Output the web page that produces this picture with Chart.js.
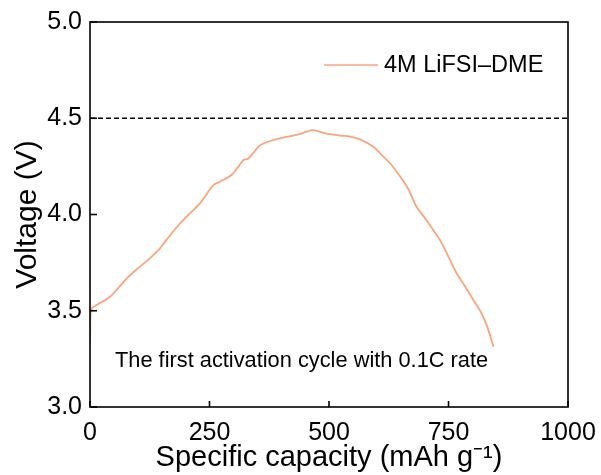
<!DOCTYPE html>
<html>
<head>
<meta charset="utf-8">
<script src="https://cdn.jsdelivr.net/npm/chart.js@4.4.1/dist/chart.umd.min.js"></script>
<style>
    html, body { margin: 0; padding: 0; background: #fff; }
    #wrap { width: 601px; height: 475px; }
</style>
</head>
<body>
<div id="wrap"><canvas id="chart"></canvas></div>
<script>
// capacity (mAh/g) and voltage (V)
const capacity = [0, 0.5, 1, 3, 14, 42, 60, 77, 100, 125, 145, 160, 180, 202, 230, 258, 272, 296, 310, 321, 331, 345, 356, 383, 410, 439, 453, 467, 495, 523, 545, 565, 593, 610, 628, 645, 663, 672, 683, 704, 718, 732, 750, 767, 785, 802, 819, 832, 844];
const voltage = [3.33, 3.40, 3.47, 3.51, 3.53, 3.573, 3.62, 3.668, 3.72, 3.772, 3.82, 3.868, 3.93, 3.989, 4.058, 4.153, 4.17, 4.205, 4.248, 4.283, 4.29, 4.33, 4.36, 4.387, 4.403, 4.418, 4.43, 4.438, 4.42, 4.41, 4.405, 4.39, 4.352, 4.31, 4.265, 4.21, 4.145, 4.10, 4.04, 3.97, 3.92, 3.868, 3.78, 3.695, 3.625, 3.556, 3.487, 3.41, 3.313];
const cutoffX = [0, 1000];
const cutoffY = [4.5, 4.5];
const xTicks = [0, 250, 500, 750, 1000];
const yTicks = [3.0, 3.5, 4.0, 4.5, 5.0];
const seriesLabel = "4M LiFSI\u2013DME";
const noteText = "The first activation cycle with 0.1C rate";

const lineColor = "#fba47c";
const fontFamily = "'Liberation Sans', Arial, sans-serif";

// frame, inward ticks, legend and note
const decorPlugin = {
    id: "decor",
    afterDraw(chart) {
        const { ctx, chartArea, scales } = chart;
        ctx.save();
        ctx.strokeStyle = "#000";
        ctx.lineWidth = 1.6;
        ctx.strokeRect(chartArea.left, chartArea.top, chartArea.right - chartArea.left, chartArea.bottom - chartArea.top);

        xTicks.forEach(v => {
            const x = scales.x.getPixelForValue(v);
            ctx.beginPath();
            ctx.moveTo(x, chartArea.bottom);
            ctx.lineTo(x, chartArea.bottom - 6);
            ctx.stroke();
        });
        yTicks.forEach(v => {
            const y = scales.y.getPixelForValue(v);
            ctx.beginPath();
            ctx.moveTo(chartArea.left, y);
            ctx.lineTo(chartArea.left + 7, y);
            ctx.stroke();
        });

        // legend
        ctx.strokeStyle = lineColor;
        ctx.lineWidth = 1.6;
        ctx.beginPath();
        ctx.moveTo(324, 65);
        ctx.lineTo(378, 65);
        ctx.stroke();
        ctx.fillStyle = "#000";
        ctx.font = "23.5px " + fontFamily;
        ctx.textBaseline = "middle";
        ctx.textAlign = "left";
        ctx.fillText(seriesLabel, 384, 66);

        ctx.font = "21.8px " + fontFamily;
        ctx.fillText(noteText, 115, 361);
        ctx.restore();
    }
};

new Chart(document.getElementById("chart"), {
    type: "line",
    data: {
        datasets: [
            {
                label: seriesLabel,
                data: capacity.map((x, i) => ({ x: x, y: voltage[i] })),
                borderColor: lineColor,
                backgroundColor: lineColor,
                borderWidth: 1.8,
                pointRadius: 0,
                tension: 0.3
            },
            {
                label: "cutoff",
                data: cutoffX.map((x, i) => ({ x: x, y: cutoffY[i] })),
                borderColor: "#000",
                borderWidth: 1.4,
                borderDash: [5, 3],
                pointRadius: 0
            }
        ]
    },
    options: {
        animation: false,
        responsive: true,
        maintainAspectRatio: false,
        layout: { padding: { left: 0, top: 22, right: 33, bottom: 0 } },
        plugins: {
            legend: { display: false },
            tooltip: { enabled: false }
        },
        scales: {
            x: {
                type: "linear",
                min: 0,
                max: 1000,
                afterBuildTicks: s => { s.ticks = xTicks.map(v => ({ value: v })); },
                afterFit: s => {
                    s.height = 68;
                    s.paddingLeft = 0;
                    s.paddingRight = 0;
                },
                grid: { display: false, drawTicks: false },
                border: { display: false },
                ticks: {
                    color: "#000",
                    padding: 11,
                    maxRotation: 0,
                    callback: v => String(v),
                    font: { size: 25, family: fontFamily }
                },
                title: {
                    display: true,
                    text: "Specific capacity (mAh g\u207B\u00B9)",
                    color: "#000",
                    padding: { top: -8, bottom: 0 },
                    font: { size: 29, family: fontFamily }
                }
            },
            y: {
                min: 3.0,
                max: 5.0,
                afterBuildTicks: s => { s.ticks = yTicks.map(v => ({ value: v })); },
                afterFit: s => {
                    s.width = 90;
                    s.paddingTop = 0;
                    s.paddingBottom = 0;
                },
                grid: { display: false, drawTicks: false },
                border: { display: false },
                ticks: {
                    color: "#000",
                    padding: 8,
                    callback: v => Number(v).toFixed(1),
                    font: { size: 25, family: fontFamily }
                },
                title: {
                    display: true,
                    text: "Voltage (V)",
                    color: "#000",
                    padding: { top: 10, bottom: 0 },
                    font: { size: 30, family: fontFamily }
                }
            }
        }
    },
    plugins: [decorPlugin]
});
</script>
</body>
</html>
